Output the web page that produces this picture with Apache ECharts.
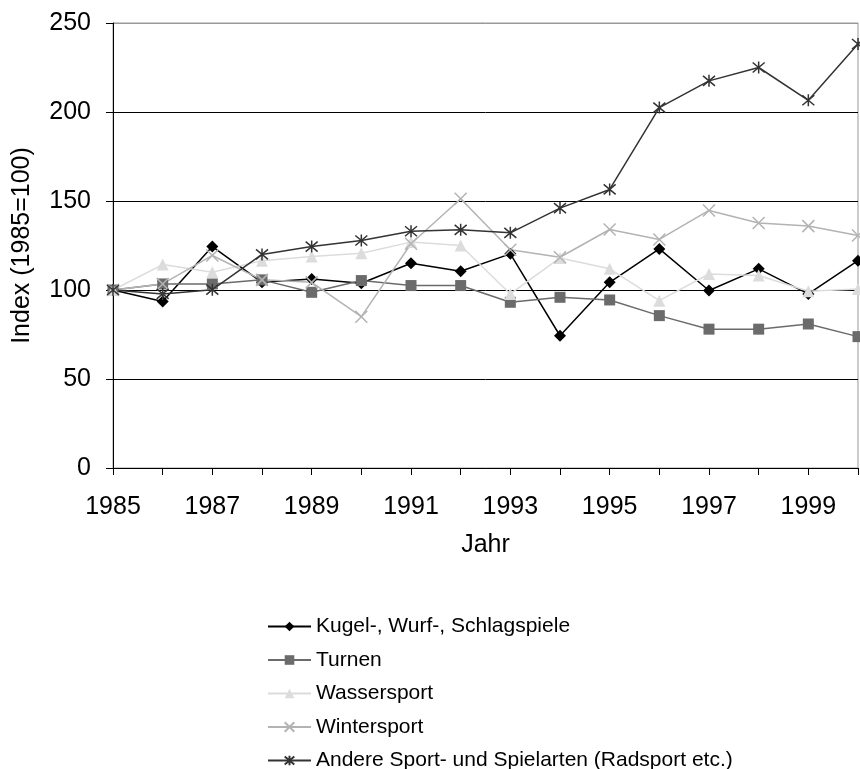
<!DOCTYPE html>
<html>
<head>
<meta charset="utf-8">
<script src="https://cdn.jsdelivr.net/npm/echarts@6/dist/echarts.min.js"></script>
<style>
  html, body { margin: 0; padding: 0; background: #fff; }
  #echart { width: 860px; height: 769px; }
</style>
</head>
<body>
<div id="echart"></div>
<script>
var years = ['1985','1986','1987','1988','1989','1990','1991','1992','1993','1994','1995','1996','1997','1998','1999','2000'];
var kugel = [100, 93.5, 124.4, 104.3, 106.2, 103.8, 115, 110.5, 120.3, 74.3, 104.3, 123.1, 99.7, 111.9, 97.8, 116.5];
var turnen = [100, 103.4, 103.4, 105.7, 98.7, 105.3, 102.5, 102.5, 93.1, 95.9, 94.4, 85.6, 78, 78, 80.9, 73.8];
var wasser = [100, 114.3, 110, 116.5, 118.8, 120.7, 126.9, 125, 97.8, 118, 111.9, 94, 109, 108.1, 99.3, 100.6];
var winter = [100, 103.4, 119.4, 105.7, 104.3, 85, 126, 151.3, 122.6, 118.4, 134, 128.4, 144.7, 137.6, 135.9, 130.6];
var andere = [100, 97.8, 100.2, 120, 124.4, 127.8, 133, 133.8, 132.1, 146, 156.5, 202.5, 217.5, 225, 206.6, 238.2];
var names = ['Kugel-, Wurf-, Schlagspiele', 'Turnen', 'Wassersport', 'Wintersport', 'Andere Sport- und Spielarten (Radsport etc.)'];

var crossPath = 'path://M0,0L10,10M10,0L0,10';
var starPath = 'path://M0,0L10,10M10,0L0,10M5,-1L5,11';
var font = 'Liberation Sans, Arial, sans-serif';

var myChart = echarts.init(document.getElementById('echart'));
var option = {
    animation: false,
    textStyle: { fontFamily: font, color: '#000' },
    grid: { left: 113, top: 23, right: 2, bottom: 301, show: true, borderColor: '#999', borderWidth: 1 },
    legend: {
        orient: 'vertical',
        left: 267,
        top: 616,
        height: 200,
        padding: 0,
        itemWidth: 43,
        itemHeight: 12,
        itemGap: 12.5,
        textStyle: { fontSize: 21, color: '#000', fontFamily: font },
        data: names
    },
    xAxis: {
        type: 'category',
        data: years,
        boundaryGap: false,
        name: 'Jahr',
        nameLocation: 'middle',
        nameGap: 65,
        nameTextStyle: { fontSize: 25, color: '#000' },
        axisLine: { lineStyle: { color: '#000', width: 1 } },
        axisTick: { show: true, interval: 0, length: 7, lineStyle: { color: '#000' } },
        axisLabel: { interval: 1, fontSize: 25, color: '#000', margin: 27 },
        splitLine: { show: false }
    },
    yAxis: {
        type: 'value',
        min: 0,
        max: 250,
        interval: 50,
        name: 'Index (1985=100)',
        nameLocation: 'middle',
        nameGap: 78,
        nameTextStyle: { fontSize: 25, color: '#000' },
        axisLine: { show: true, lineStyle: { color: '#000', width: 1 } },
        axisTick: { show: true, length: 7, lineStyle: { color: '#000' } },
        axisLabel: { fontSize: 25, color: '#000', margin: 22 },
        splitLine: { show: true, lineStyle: { color: ['#000', '#000', '#000', '#000', '#000', '#999'], width: 1 } }
    },
    series: [
        {
            name: names[0], type: 'line', data: kugel,
            symbol: 'diamond', symbolSize: 12,
            lineStyle: { color: '#000', width: 1.5 },
            itemStyle: { color: '#000' }
        },
        {
            name: names[1], type: 'line', data: turnen,
            symbol: 'rect', symbolSize: 11,
            lineStyle: { color: '#6b6b6b', width: 1.5 },
            itemStyle: { color: '#6b6b6b' }
        },
        {
            name: names[2], type: 'line', data: wasser,
            symbol: 'triangle', symbolSize: 12,
            lineStyle: { color: '#dcdcdc', width: 1.5 },
            itemStyle: { color: '#dcdcdc' }
        },
        {
            name: names[3], type: 'line', data: winter,
            symbol: crossPath, symbolSize: 12,
            lineStyle: { color: '#b3b3b3', width: 1.5 },
            itemStyle: { color: 'none', borderColor: '#b3b3b3', borderWidth: 1.5 }
        },
        {
            name: names[4], type: 'line', data: andere,
            symbol: starPath, symbolSize: 12,
            lineStyle: { color: '#333', width: 1.5 },
            itemStyle: { color: 'none', borderColor: '#333', borderWidth: 1.5 }
        }
    ]
};
myChart.setOption(option);
window.onresize = myChart.resize;
</script>
</body>
</html>
